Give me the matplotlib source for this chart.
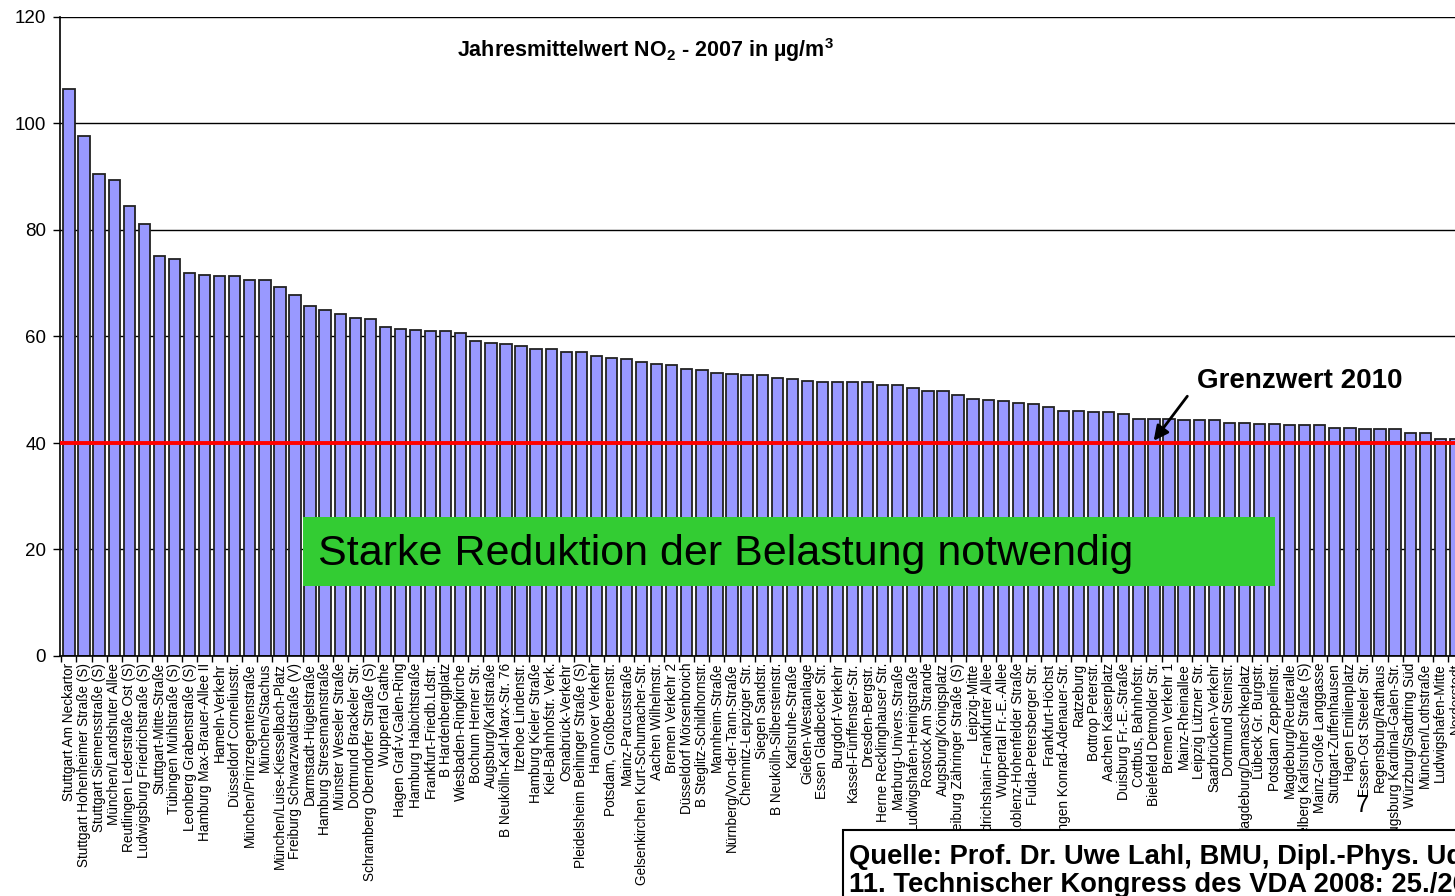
import numpy as np
import matplotlib
matplotlib.use('Agg')
import matplotlib.pyplot as plt
from matplotlib.patches import Rectangle

plt.rcParams['font.family'] = ['Liberation Sans', 'DejaVu Sans']
plt.rcParams['mathtext.fontset'] = 'custom'
plt.rcParams['mathtext.rm'] = 'Liberation Sans'
plt.rcParams['mathtext.bf'] = 'Liberation Sans:bold'

# stations, sorted by annual mean NO2 (µg/m³), 2007
stations = [
    'Stuttgart Am Neckartor', 'Stuttgart Hohenheimer Straße (S)', 'Stuttgart Siemensstraße (S)',
    'München/Landshuter Allee', 'Reutlingen Lederstraße Ost (S)', 'Ludwigsburg Friedrichstraße (S)',
    'Stuttgart-Mitte-Straße', 'Tübingen Mühlstraße (S)', 'Leonberg Grabenstraße (S)',
    'Hamburg Max-Brauer-Allee II', 'Hameln-Verkehr', 'Düsseldorf Corneliusstr.',
    'München/Prinzregentenstraße', 'München/Stachus', 'München/Luise-Kiesselbach-Platz',
    'Freiburg Schwarzwaldstraße (V)', 'Darmstadt-Hügelstraße', 'Hamburg Stresemannstraße',
    'Münster Weseler Straße', 'Dortmund Brackeler Str.', 'Schramberg Oberndorfer Straße (S)',
    'Wuppertal Gathe', 'Hagen Graf-v.Galen-Ring', 'Hamburg Habichtstraße',
    'Frankfurt-Friedb.Ldstr.', 'B Hardenbergplatz', 'Wiesbaden-Ringkirche',
    'Bochum Herner Str.', 'Augsburg/Karlstraße', 'B Neukölln-Karl-Marx-Str. 76',
    'Itzehoe Lindenstr.', 'Hamburg Kieler Straße', 'Kiel-Bahnhofstr. Verk.',
    'Osnabrück-Verkehr', 'Pleidelsheim Beihinger Straße (S)', 'Hannover Verkehr',
    'Potsdam, Großbeerenstr.', 'Mainz-Parcusstraße', 'Gelsenkirchen Kurt-Schumacher-Str.',
    'Aachen Wilhelmstr.', 'Bremen Verkehr 2', 'Düsseldorf Mörsenbroich',
    'B Steglitz-Schildhornstr.', 'Mannheim-Straße', 'Nürnberg/Von-der-Tann-Straße',
    'Chemnitz-Leipziger Str.', 'Siegen Sandstr.', 'B Neukölln-Silbersteinstr.',
    'Karlsruhe-Straße', 'Gießen-Westanlage', 'Essen Gladbecker Str.',
    'Burgdorf-Verkehr', 'Kassel-Fünffenster-Str.', 'Dresden-Bergstr.',
    'Herne Recklinghauser Str.', 'Marburg-Univers.Straße', 'Ludwigshafen-Heinigstraße',
    'Rostock Am Strande', 'Augsburg/Königsplatz', 'Freiburg Zähringer Straße (S)',
    'Leipzig-Mitte', 'Friedrichshain-Frankfurter Allee', 'Wuppertal Fr.-E.-Allee',
    'Koblenz-Hohenfelder Straße', 'Fulda-Petersberger Str.', 'Frankfurt-Höchst',
    'Tübingen Konrad-Adenauer-Str.', 'Ratzeburg', 'Bottrop Peterstr.',
    'Aachen Kaiserplatz', 'Duisburg Fr.-E.-Straße', 'Cottbus, Bahnhofstr.',
    'Bielefeld Detmolder Str.', 'Bremen Verkehr 1', 'Mainz-Rheinallee',
    'Leipzig Lützner Str.', 'Saarbrücken-Verkehr', 'Dortmund Steinstr.',
    'Magdeburg/Damaschkeplatz', 'Lübeck Gr. Burgstr.', 'Potsdam Zeppelinstr.',
    'Magdeburg/Reuteralle', 'Heidelberg Karlsruher Straße (S)', 'Mainz-Große Langgasse',
    'Stuttgart-Zuffenhausen', 'Hagen Emilienplatz', 'Essen-Ost Steeler Str.',
    'Regensburg/Rathaus', 'Augsburg Kardinal-Galen-Str.', 'Würzburg/Stadtring Süd',
    'München/Lothstraße', 'Ludwigshafen-Mitte', 'Norderstedt',
]
values = [
    106.5, 97.6, 90.6, 89.3, 84.5, 81.2, 75.1, 74.6, 71.9, 71.6,
    71.4, 71.4, 70.6, 70.6, 69.3, 67.8, 65.8, 65.0, 64.3, 63.5,
    63.2, 61.7, 61.5, 61.2, 61.0, 61.0, 60.7, 59.2, 58.7, 58.5,
    58.2, 57.7, 57.7, 57.0, 57.0, 56.4, 55.9, 55.7, 55.2, 54.9,
    54.7, 53.9, 53.7, 53.2, 52.9, 52.7, 52.7, 52.3, 52.1, 51.6,
    51.4, 51.4, 51.4, 51.4, 50.8, 50.8, 50.3, 49.8, 49.8, 49.1,
    48.3, 48.1, 47.8, 47.6, 47.3, 46.8, 46.1, 46.1, 45.8, 45.8,
    45.5, 44.6, 44.6, 44.6, 44.3, 44.3, 44.3, 43.8, 43.8, 43.5,
    43.5, 43.3, 43.3, 43.3, 42.8, 42.8, 42.6, 42.6, 42.6, 41.8,
    41.8, 40.8, 40.8,
]
grenzwert = 40
yticks = [0, 20, 40, 60, 80, 100, 120]

W, H = 1455, 896
def fx(px):
    return px / W
def fy(py):
    return 1 - py / H

fig = plt.figure(figsize=(W / 100, H / 100), dpi=100)
# axes runs past the right edge, the chart is cropped there
ax = fig.add_axes([fx(60), fy(656), fx(1470 - 60), (656 - 17) / H])

x = np.arange(len(values))
ax.bar(x, values, width=0.75, color='#9999ff', edgecolor='#222222', linewidth=1.3, zorder=2)
ax.axhline(grenzwert, color='red', lw=2.8, zorder=3)

ax.set_xlim(-0.594, 92.97)
ax.set_ylim(0, 120)
ax.set_yticks(yticks)
ax.yaxis.grid(True, color='black', lw=1.0)
ax.set_axisbelow(True)

ax.set_xticks(x)
ax.set_xticklabels(stations, rotation=90, fontsize=9.8)
ax.set_xticks(np.arange(-0.5, len(values), 1), minor=True)
ax.tick_params(axis='x', which='major', length=0, pad=5)
ax.tick_params(axis='x', which='minor', length=4, width=1, direction='out')
ax.tick_params(axis='y', labelsize=13.5, length=5, width=1, pad=5)
for s in ['top', 'right']:
    ax.spines[s].set_visible(False)
ax.spines['left'].set_linewidth(1.2)
ax.spines['bottom'].set_linewidth(1.2)

fig.text(fx(645), fy(50), r'Jahresmittelwert NO$_{\mathbf{2}}$ - 2007 in µg/m$^{\mathbf{3}}$',
         ha='center', va='center', fontsize=15.5, fontweight='bold')

# green message box
fig.patches.append(Rectangle((fx(303), fy(586)), fx(1275 - 303), (586 - 517) / H,
                             transform=fig.transFigure, facecolor='#33cc33',
                             edgecolor='none', zorder=5))
fig.text(fx(318), fy(554), 'Starke Reduktion der Belastung notwendig',
         ha='left', va='center', fontsize=31, zorder=6)

# limit value annotation
fig.text(fx(1197), fy(381), 'Grenzwert 2010', ha='left', va='center',
         fontsize=20, fontweight='bold', zorder=6)
ax.annotate('', xy=(fx(1152), fy(443)), xytext=(fx(1189), fy(394)),
            xycoords='figure fraction', textcoords='figure fraction',
            arrowprops=dict(arrowstyle='-|>', color='black', lw=2, mutation_scale=22))

fig.text(fx(1362), fy(806), '7', ha='center', va='center', fontsize=17, zorder=6)

# source box (cropped, as in the original slide)
fig.patches.append(Rectangle((fx(843), fy(905)), fx(1500 - 843), (905 - 830) / H,
                             transform=fig.transFigure, facecolor='white',
                             edgecolor='black', linewidth=1.5, zorder=5))
fig.text(fx(849), fy(857), 'Quelle: Prof. Dr. Uwe Lahl, BMU, Dipl.-Phys. Udo Lambrecht, ifeu',
         ha='left', va='center', fontsize=19.7, fontweight='bold', zorder=6)
fig.text(fx(849), fy(885), '11. Technischer Kongress des VDA 2008: 25./26. März 2008',
         ha='left', va='center', fontsize=19.7, fontweight='bold', zorder=6)

fig.savefig('out.png', dpi=100)
